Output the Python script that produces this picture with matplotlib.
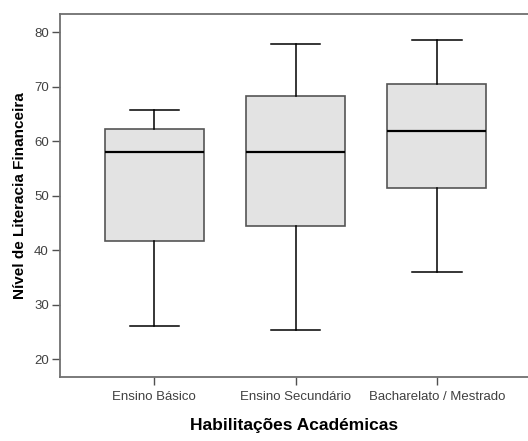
import matplotlib
matplotlib.use('Agg')
import matplotlib.pyplot as plt

plt.rcParams['font.family'] = ['Liberation Sans', 'DejaVu Sans']

categories = ['Ensino Básico', 'Ensino Secundário', 'Bacharelato / Mestrado']
whis_low = [26.0, 25.3, 35.9]
q1 = [41.7, 44.4, 51.5]
median = [58.0, 58.0, 61.9]
q3 = [62.2, 68.3, 70.6]
whis_high = [65.7, 77.9, 78.6]
yticks = [20, 30, 40, 50, 60, 70, 80]

stats = []
for i, name in enumerate(categories):
    stats.append({
        'label': name,
        'whislo': whis_low[i],
        'q1': q1[i],
        'med': median[i],
        'q3': q3[i],
        'whishi': whis_high[i],
        'fliers': [],
    })

fig = plt.figure(figsize=(5.28, 4.41), dpi=100)
ax = fig.add_axes([0.1136, 0.1458, 0.8864, 0.8222])

edge = '#555555'
ax.bxp(stats, positions=[1, 2, 3], widths=0.70, patch_artist=True, showfliers=False,
       boxprops=dict(facecolor='#e3e3e3', edgecolor=edge, linewidth=1.2),
       medianprops=dict(color='black', linewidth=1.6),
       whiskerprops=dict(color='black', linewidth=1.1),
       capprops=dict(color='black', linewidth=1.1),
       capwidths=0.35)

ax.set_xlim(0.333, 3.644)
ax.set_ylim(16.75, 83.36)
ax.set_yticks(yticks)
ax.set_xticks([1, 2, 3])
ax.set_xticklabels(categories)

for side in ['left', 'bottom', 'top']:
    ax.spines[side].set_color('#707070')
    ax.spines[side].set_linewidth(1.3)
ax.spines['right'].set_visible(False)

ax.tick_params(axis='both', colors='#505050', labelcolor='#404040', labelsize=9.5,
               length=6, width=1.0)
ax.tick_params(axis='x', pad=4)
ax.tick_params(axis='y', pad=2)

ax.set_ylabel('Nível de Literacia Financeira', fontsize=11, fontweight='bold', labelpad=5)
ax.set_xlabel('Habilitações Académicas', fontsize=12.5, fontweight='bold', labelpad=11)

fig.savefig('out.png', dpi=100, facecolor='white')
